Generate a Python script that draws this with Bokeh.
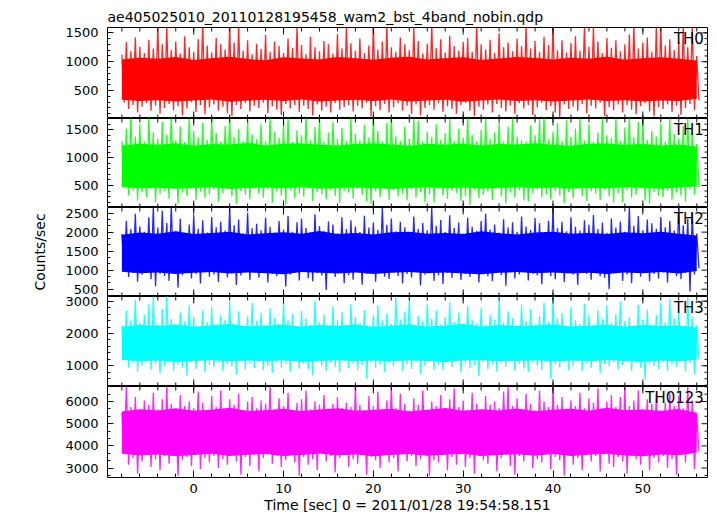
from bokeh.plotting import figure
from bokeh.models import Range1d, FixedTicker, LinearAxis, Label
from bokeh.layouts import column
from bokeh.embed import file_html
from bokeh.resources import INLINE

TITLE = "ae405025010_20110128195458_wam2_bst_4band_nobin.qdp"
X_LABEL = "Time [sec] 0 = 2011/01/28 19:54:58.151"
Y_LABEL = "Counts/sec"
BANDS = ["TH0", "TH1", "TH2", "TH3", "TH0123"]
COLORS = ["#ff0000", "#00ff00", "#0000ff", "#00ffff", "#ff00ff"]

# time of each sample (s); peak value at TIME, trough value a quarter second later
TIME = [-8.0, -7.5, -7.0, -6.5, -6.0, -5.5, -5.0, -4.5, -4.0, -3.5,
        -3.0, -2.5, -2.0, -1.5, -1.0, -0.5, 0.0, 0.5, 1.0, 1.5,
        2.0, 2.5, 3.0, 3.5, 4.0, 4.5, 5.0, 5.5, 6.0, 6.5,
        7.0, 7.5, 8.0, 8.5, 9.0, 9.5, 10.0, 10.5, 11.0, 11.5,
        12.0, 12.5, 13.0, 13.5, 14.0, 14.5, 15.0, 15.5, 16.0, 16.5,
        17.0, 17.5, 18.0, 18.5, 19.0, 19.5, 20.0, 20.5, 21.0, 21.5,
        22.0, 22.5, 23.0, 23.5, 24.0, 24.5, 25.0, 25.5, 26.0, 26.5,
        27.0, 27.5, 28.0, 28.5, 29.0, 29.5, 30.0, 30.5, 31.0, 31.5,
        32.0, 32.5, 33.0, 33.5, 34.0, 34.5, 35.0, 35.5, 36.0, 36.5,
        37.0, 37.5, 38.0, 38.5, 39.0, 39.5, 40.0, 40.5, 41.0, 41.5,
        42.0, 42.5, 43.0, 43.5, 44.0, 44.5, 45.0, 45.5, 46.0, 46.5,
        47.0, 47.5, 48.0, 48.5, 49.0, 49.5, 50.0, 50.5, 51.0, 51.5,
        52.0, 52.5, 53.0, 53.5, 54.0, 54.5, 55.0, 55.5, 56.0]
CORE_TIME = [-8, -6, -4, -2, 0, 2, 4, 6, 8, 10, 12, 14, 16, 18, 20, 22, 24,
             26, 28, 30, 32, 34, 36, 38, 40, 42, 44, 46, 48, 50, 52, 54, 56]

TH0_HIGH = [1120, 1340, 1180, 1420, 1260, 1150, 1380, 1230, 1640, 1300,
            1610, 1200, 1350, 1140, 1440, 1250, 1170, 1390, 1650, 1280,
            1160, 1410, 1300, 1210, 1660, 1330, 1620, 1190, 1370, 1130,
            1310, 1220, 1460, 1170, 1350, 1270, 1150, 1400, 1240, 1600,
            1290, 1130, 1430, 1250, 1180, 1360, 1300, 1140, 1480, 1230,
            1610, 1320, 1190, 1400, 1150, 1280, 1640, 1210, 1350, 1620,
            1250, 1170, 1420, 1300, 1200, 1600, 1360, 1140, 1310, 1640,
            1240, 1390, 1160, 1450, 1270, 1190, 1340, 1410, 1170, 1650,
            1300, 1210, 1380, 1150, 1490, 1250, 1330, 1180, 1400, 1270,
            1610, 1230, 1360, 1170, 1430, 1290, 1640, 1200, 1370, 1160,
            1320, 1440, 1190, 1620, 1260, 1600, 1350, 1150, 1410, 1240,
            1370, 1180, 1300, 1470, 1630, 1230, 1330, 1420, 1170, 1610,
            1650, 1280, 1390, 1200, 1340, 1640, 1250, 1600, 1100]
TH0_LOW = [290, 180, 250, 120, 220, 280, 150, 240, 100, 200,
           270, 160, 230, 70, 190, 300, 130, 250, 90, 210,
           260, 150, 220, 110, 60, 250, 180, 280, 140, 240,
           200, 290, 110, 230, 170, 80, 270, 190, 250, 130,
           240, 180, 70, 260, 150, 220, 120, 280, 170, 210,
           250, 140, 240, 190, 290, 50, 230, 160, 270, 120,
           210, 280, 150, 240, 90, 260, 70, 200, 250, 170,
           280, 130, 230, 180, 100, 250, 290, 150, 60, 220,
           170, 260, 120, 270, 200, 140, 240, 100, 280, 190,
           250, 80, 210, 290, 160, 230, 120, 40, 260, 180,
           220, 150, 270, 110, 240, 190, 290, 60, 210, 160,
           260, 120, 250, 170, 90, 230, 280, 140, 50, 210,
           180, 260, 130, 240, 80, 200, 270, 160, 330]
TH0_CORE_HIGH = [1040, 1070, 1050, 1080, 1030, 1060, 1085, 1045, 1025, 1075, 1055,
                 1040, 1080, 1060, 1035, 1070, 1085, 1040, 1060, 1075, 1030, 1055,
                 1080, 1065, 1040, 1070, 1050, 1085, 1035, 1060, 1075, 1050, 1020]
TH0_CORE_LOW = [340, 320, 335, 310, 330, 345, 305, 330, 340, 320, 345,
                310, 330, 340, 320, 345, 310, 330, 340, 305, 330, 345,
                320, 335, 310, 330, 345, 320, 335, 310, 330, 320, 360]

TH1_HIGH = [1300, 1520, 1780, 1380, 1600, 1290, 1720, 1450, 1340, 1650,
            1410, 1760, 1310, 1560, 1280, 1740, 1480, 1360, 1620, 1320,
            1710, 1440, 1290, 1570, 1760, 1370, 1510, 1300, 1670, 1420,
            1330, 1600, 1290, 1750, 1460, 1350, 1630, 1730, 1280, 1490,
            1400, 1780, 1320, 1550, 1720, 1290, 1450, 1640, 1340, 1530,
            1300, 1740, 1430, 1310, 1590, 1360, 1710, 1480, 1290, 1620,
            1760, 1380, 1300, 1560, 1340, 1730, 1660, 1290, 1470, 1370,
            1600, 1320, 1440, 1700, 1300, 1520, 1360, 1770, 1410, 1290,
            1500, 1720, 1340, 1450, 1630, 1290, 1560, 1750, 1380, 1310,
            1290, 1580, 1400, 1690, 1760, 1330, 1470, 1620, 1300, 1670,
            1370, 1520, 1730, 1310, 1600, 1290, 1450, 1780, 1400, 1350,
            1720, 1300, 1540, 1740, 1360, 1640, 1760, 1320, 1480, 1380,
            1610, 1290, 1710, 1420, 1340, 1570, 1740, 1460, 1250]
TH1_LOW = [470, 320, 410, 230, 380, 290, 440, 200, 350, 400,
           260, 430, 180, 370, 310, 450, 240, 390, 280, 340,
           420, 210, 360, 460, 300, 170, 400, 330, 250, 440,
           350, 280, 430, 190, 390, 320, 160, 410, 270, 360,
           300, 450, 220, 380, 340, 250, 420, 310, 190, 400,
           370, 260, 440, 330, 210, 170, 390, 290, 460, 240,
           410, 300, 350, 230, 430, 280, 380, 200, 340, 190,
           440, 320, 260, 400, 360, 220, 310, 150, 420, 270,
           330, 390, 240, 450, 300, 180, 370, 280, 410, 230,
           210, 360, 430, 290, 340, 250, 400, 320, 180, 380,
           270, 440, 310, 220, 390, 350, 240, 420, 300, 190,
           360, 200, 410, 280, 330, 450, 230, 170, 380, 310,
           290, 400, 250, 370, 320, 210, 430, 340, 470]
TH1_CORE_HIGH = [1220, 1250, 1230, 1260, 1215, 1245, 1235, 1265, 1220, 1250, 1255,
                 1230, 1220, 1245, 1260, 1235, 1215, 1250, 1230, 1255, 1220, 1245,
                 1235, 1260, 1230, 1215, 1250, 1255, 1230, 1245, 1220, 1235, 1200]
TH1_CORE_LOW = [470, 450, 460, 440, 455, 470, 435, 455, 465, 450, 470,
                440, 455, 465, 450, 435, 455, 470, 450, 465, 440, 455,
                470, 450, 465, 440, 455, 450, 470, 455, 440, 465, 480]

TH2_HIGH = [1950, 2300, 2080, 2480, 2150, 2010, 2390, 2660, 2120, 2560,
            2240, 2680, 2020, 2350, 1970, 2200, 2450, 2090, 2310, 1990,
            2400, 2130, 2270, 2040, 2660, 2180, 2330, 1960, 2500, 2100,
            2220, 2050, 2380, 2140, 1980, 2290, 2070, 2420, 2010, 2260,
            2350, 2110, 1990, 2470, 2160, 2030, 2280, 2200, 1970, 2390,
            2080, 2310, 2150, 2000, 2430, 2120, 2250, 2060, 2660, 2190,
            2360, 2020, 2270, 2130, 1980, 2410, 2090, 2240, 2050, 2660,
            2170, 2320, 2000, 2440, 2110, 2250, 1960, 2380, 2140, 2030,
            2290, 2480, 2070, 2200, 1990, 2340, 2120, 2260, 2010, 2410,
            2150, 2060, 2370, 2230, 1970, 2300, 2660, 2100, 2270, 2020,
            2390, 2140, 2040, 2310, 2190, 2450, 2080, 2250, 1980, 2360,
            2120, 2280, 2010, 2660, 2170, 2420, 2050, 2330, 2230, 2090,
            2400, 2130, 2290, 2040, 2670, 2180, 2350, 2510, 1960]
TH2_LOW = [1040, 820, 930, 700, 880, 990, 760, 580, 910, 850,
           720, 960, 540, 870, 1000, 780, 900, 650, 950, 830,
           890, 690, 990, 810, 920, 610, 860, 1010, 740, 940,
           800, 970, 680, 900, 840, 1020, 570, 880, 950, 730,
           980, 790, 710, 920, 860, 480, 940, 820, 1000, 660,
           870, 750, 960, 620, 910, 990, 700, 950, 830, 770,
           940, 850, 650, 900, 810, 990, 600, 880, 960, 720,
           870, 640, 930, 800, 1010, 740, 900, 820, 970, 680,
           920, 840, 710, 990, 870, 590, 950, 780, 890, 1000,
           730, 910, 860, 630, 970, 850, 760, 1010, 690, 930,
           880, 620, 960, 900, 750, 990, 840, 800, 500, 920,
           970, 720, 890, 660, 950, 830, 1020, 710, 900, 780,
           940, 680, 980, 840, 760, 930, 440, 890, 1050]
TH2_CORE_HIGH = [1930, 1990, 1960, 2020, 1950, 1980, 2010, 1940, 1970, 2000, 1960,
                 2030, 1950, 1980, 1940, 2000, 2010, 1960, 1980, 1950, 2020, 1970,
                 1940, 1990, 2010, 1960, 1980, 1950, 2000, 1970, 2010, 1960, 1910]
TH2_CORE_LOW = [960, 920, 940, 900, 930, 955, 910, 940, 920, 895, 950,
                930, 910, 940, 900, 930, 955, 920, 940, 910, 895, 930,
                950, 920, 940, 910, 930, 900, 940, 920, 950, 910, 980]

TH3_HIGH = [2250, 2700, 2400, 3050, 2330, 2580, 2900, 3150, 2290, 2760,
            3160, 2450, 2230, 2650, 2380, 2880, 2520, 2210, 2710, 2360,
            2820, 2270, 2560, 2430, 3000, 2310, 2690, 2220, 2530, 2940,
            2390, 2640, 2200, 2780, 2480, 2300, 2950, 2410, 2600, 2240,
            2700, 2460, 2280, 3020, 2350, 2590, 2210, 2840, 2420, 2660,
            2260, 2910, 2500, 2330, 2730, 2190, 2570, 2870, 2400, 2620,
            2300, 3150, 2440, 2680, 3100, 2250, 2550, 2380, 2920, 2470,
            2720, 2280, 2510, 2960, 2350, 2640, 2200, 2860, 2430, 2310,
            2800, 2270, 2580, 2420, 3050, 2330, 2690, 2490, 2220, 2900,
            2390, 2750, 2260, 2540, 2950, 2360, 3100, 2470, 2630, 2230,
            2830, 2410, 2290, 2920, 2560, 2200, 2720, 2440, 2870, 2320,
            2610, 2980, 2380, 2500, 2240, 2890, 2430, 2740, 2280, 2570,
            2940, 2350, 3080, 2460, 2660, 2230, 3120, 2520, 2250]
TH3_LOW = [1180, 940, 1080, 820, 1010, 1130, 870, 1050, 760, 990,
           1120, 850, 1040, 950, 690, 1100, 900, 1160, 800, 1020,
           960, 1110, 830, 1060, 980, 720, 1140, 890, 1070, 930,
           1130, 860, 1000, 780, 1090, 950, 1050, 820, 1150, 910,
           1040, 880, 700, 1120, 990, 840, 1080, 960, 790, 1140,
           920, 1060, 870, 1010, 600, 1100, 940, 1030, 810, 1090,
           980, 1150, 830, 1050, 900, 1120, 740, 1000, 1130, 880,
           1040, 860, 1100, 960, 1160, 790, 1070, 930, 1020, 680,
           1110, 890, 1050, 820, 1080, 970, 1150, 850, 1060, 920,
           810, 1090, 1010, 870, 1130, 600, 1040, 950, 1120, 860,
           1000, 1140, 840, 1070, 930, 1110, 770, 1050, 990, 1100,
           880, 1020, 1130, 830, 1090, 940, 560, 1060, 1000, 900,
           1100, 850, 1040, 960, 1150, 820, 1080, 740, 1200]
TH3_CORE_HIGH = [2200, 2260, 2230, 2280, 2210, 2250, 2290, 2220, 2240, 2270, 2210,
                 2260, 2230, 2280, 2200, 2250, 2270, 2220, 2240, 2290, 2210, 2260,
                 2230, 2250, 2280, 2220, 2240, 2270, 2210, 2260, 2230, 2250, 2180]
TH3_CORE_LOW = [1180, 1140, 1160, 1120, 1150, 1180, 1130, 1160, 1140, 1170, 1120,
                1150, 1180, 1140, 1160, 1130, 1170, 1150, 1120, 1160, 1180, 1140,
                1150, 1170, 1130, 1160, 1140, 1180, 1150, 1120, 1160, 1140, 1190]

TH0123_HIGH = [5500, 6700, 5750, 6200, 5600, 6050, 5850, 6400, 5650, 6100,
               6700, 5900, 5550, 6300, 5800, 6000, 5700, 6450, 5950, 5600,
               6250, 5750, 6500, 5650, 6100, 5850, 6350, 5550, 6000, 6200,
               5700, 6050, 5900, 6700, 5600, 6150, 5800, 6400, 5550, 5950,
               6100, 6500, 5650, 6000, 5850, 6300, 5550, 5900, 6200, 5700,
               5950, 5750, 6700, 5850, 5600, 6250, 5800, 6450, 5650, 6050,
               6700, 5700, 6350, 5900, 5600, 6150, 5850, 6500, 5550, 6000,
               5800, 6300, 5650, 6100, 6600, 5750, 6050, 5600, 6400, 5900,
               5550, 6250, 5850, 6000, 5700, 6450, 6700, 5800, 6150, 5650,
               6350, 5900, 5600, 6500, 6000, 5750, 6700, 5850, 6200, 5600,
               6050, 5800, 6400, 5700, 6150, 5950, 6600, 5550, 6000, 6300,
               5750, 6200, 6700, 5800, 6050, 6500, 5650, 6100, 5900, 6350,
               5600, 5950, 6400, 5800, 6250, 5700, 6700, 6050, 5450]
TH0123_LOW = [3700, 3150, 3450, 2750, 3300, 3600, 3050, 3400, 2900, 3550,
              3200, 3650, 2650, 3350, 3500, 3100, 3600, 2950, 3450, 3250,
              3550, 3000, 3400, 3150, 3650, 3300, 2700, 3500, 3100, 3600,
              2850, 3450, 3650, 3200, 3550, 3050, 3350, 3600, 3250, 2650,
              3500, 3150, 3400, 2900, 3650, 3300, 3550, 2800, 3450, 3600,
              3050, 3400, 3200, 3650, 2700, 3500, 3350, 3000, 3600, 3250,
              3450, 2850, 3650, 3300, 3550, 3100, 3400, 3600, 2650, 3350,
              3250, 3600, 2900, 3500, 3150, 3650, 3050, 3450, 2750, 3550,
              3350, 3200, 3600, 2850, 3450, 3650, 3100, 2700, 3550, 3300,
              3600, 3000, 3400, 3250, 3650, 2950, 3500, 3350, 2650, 3600,
              3150, 3450, 2900, 3600, 3300, 3550, 2850, 3650, 3200, 3050,
              3500, 3300, 2750, 3600, 3400, 3150, 3650, 2900, 3450, 3250,
              3550, 3000, 3400, 2700, 3600, 3250, 3650, 2950, 3750]
TH0123_CORE_HIGH = [5550, 5650, 5600, 5700, 5580, 5630, 5720, 5570, 5610, 5680, 5560,
                    5640, 5700, 5590, 5620, 5670, 5550, 5630, 5710, 5580, 5650, 5600,
                    5690, 5560, 5630, 5670, 5590, 5720, 5610, 5640, 5570, 5660, 5500]
TH0123_CORE_LOW = [3650, 3570, 3610, 3530, 3590, 3650, 3550, 3600, 3630, 3540, 3590,
                   3660, 3570, 3610, 3530, 3590, 3640, 3560, 3600, 3650, 3540, 3590,
                   3620, 3560, 3630, 3550, 3600, 3650, 3570, 3530, 3610, 3580, 3700]

HIGHS = [TH0_HIGH, TH1_HIGH, TH2_HIGH, TH3_HIGH, TH0123_HIGH]
LOWS = [TH0_LOW, TH1_LOW, TH2_LOW, TH3_LOW, TH0123_LOW]
CORE_HIGHS = [TH0_CORE_HIGH, TH1_CORE_HIGH, TH2_CORE_HIGH, TH3_CORE_HIGH, TH0123_CORE_HIGH]
CORE_LOWS = [TH0_CORE_LOW, TH1_CORE_LOW, TH2_CORE_LOW, TH3_CORE_LOW, TH0123_CORE_LOW]

# axes
X_RANGE = (-9.6, 57.2)
X_MAJOR = [0, 10, 20, 30, 40, 50]
X_MINOR = list(range(-8, 57, 2))
Y_RANGES = [(17, 1592), (104, 1703), (309, 2647), (359, 3145), (2575, 6679)]
Y_MAJOR = [[500, 1000, 1500], [500, 1000, 1500], [500, 1000, 1500, 2000, 2500],
           [1000, 2000, 3000], [3000, 4000, 5000, 6000]]
Y_MINOR = [list(range(100, 1600, 100)),
           list(range(200, 1800, 100)),
           [m + k * 500 / 3 for m in range(0, 3000, 500) for k in (1, 2)],
           list(range(400, 3200, 200)),
           [m + k * 1000 / 3 for m in range(2000, 7000, 1000) for k in (1, 2)]]

# layout (page has no margin: layout fills the 717 x 516 window)
FIG_W = 717
BORDER_L, BORDER_R = 107, 10
FRAME_W = FIG_W - BORDER_L - BORDER_R
TOP_BORDER, BOTTOM_BORDER = 27, 38
FRAME_H = [91, 89, 89, 90, 91]
FONT = "DejaVu Sans"
TICK_COLOR = "#111111"
HALF = 0.25

xr = Range1d(*X_RANGE)


def add_edge_ticks(p, i, with_bottom):
    """Inward tick marks on the top, right (and bottom) frame edges."""
    ylo, yhi = Y_RANGES[i]
    ypp = (yhi - ylo) / FRAME_H[i]
    xpp = (X_RANGE[1] - X_RANGE[0]) / FRAME_W
    x0, y0, x1, y1 = [], [], [], []
    for ticks, n in ((X_MAJOR, 7), (X_MINOR, 4)):
        for t in ticks:
            x0.append(t); x1.append(t); y0.append(yhi); y1.append(yhi - n * ypp)
            if with_bottom:
                x0.append(t); x1.append(t); y0.append(ylo); y1.append(ylo + n * ypp)
    for ticks, n in ((Y_MAJOR[i], 6), (Y_MINOR[i], 3)):
        for v in ticks:
            x0.append(X_RANGE[1]); x1.append(X_RANGE[1] - n * xpp); y0.append(v); y1.append(v)
    p.segment(x0, y0, x1, y1, line_color=TICK_COLOR, line_width=1)


panels = []
for i in range(5):
    top = i == 0
    bottom = i == 4
    h = FRAME_H[i] + (TOP_BORDER if top else 0) + (BOTTOM_BORDER if bottom else 0)
    p = figure(width=FIG_W, height=h, x_range=xr, y_range=Range1d(*Y_RANGES[i]),
               output_backend="svg", toolbar_location=None,
               x_axis_location=None, y_axis_location=None,
               title=TITLE if top else None,
               min_border_left=BORDER_L, min_border_right=BORDER_R,
               min_border_top=(TOP_BORDER if top else 0),
               min_border_bottom=(BOTTOM_BORDER if bottom else 0))
    p.grid.visible = False
    p.outline_line_color = "black"
    p.outline_line_width = 1
    if top:
        p.title.text_font = FONT
        p.title.text_font_size = "14px"
        p.title.text_font_style = "normal"
        p.title.text_color = "black"
        p.title.standoff = 5
        p.title.offset = 0

    # light curve: peaks and troughs joined in time order, dense core filled
    xs, ys = [], []
    for t, hv, lv in zip(TIME, HIGHS[i], LOWS[i]):
        xs += [t, t + HALF]
        ys += [hv, lv]
    p.line(xs, ys, line_color=COLORS[i], line_width=1.3, line_alpha=0.85)
    p.varea(x=CORE_TIME, y1=CORE_LOWS[i], y2=CORE_HIGHS[i], fill_color=COLORS[i])

    left = LinearAxis(ticker=FixedTicker(ticks=Y_MAJOR[i], minor_ticks=Y_MINOR[i]),
                      major_tick_in=6, major_tick_out=0, minor_tick_in=3, minor_tick_out=0,
                      major_tick_line_color=TICK_COLOR, minor_tick_line_color=TICK_COLOR,
                      axis_line_color=None, major_label_standoff=9,
                      major_label_text_font=FONT, major_label_text_font_size="13px",
                      major_label_text_color="black")
    if i == 2:
        left.axis_label = Y_LABEL
        left.axis_label_text_font = FONT
        left.axis_label_text_font_size = "14px"
        left.axis_label_text_font_style = "normal"
        left.axis_label_text_color = "black"
        left.axis_label_standoff = 14
    p.add_layout(left, "left")

    if bottom:
        below = LinearAxis(ticker=FixedTicker(ticks=X_MAJOR, minor_ticks=X_MINOR),
                           major_tick_in=7, major_tick_out=0, minor_tick_in=4, minor_tick_out=0,
                           major_tick_line_color=TICK_COLOR, minor_tick_line_color=TICK_COLOR,
                           axis_line_color=None, major_label_standoff=6,
                           major_label_text_font=FONT, major_label_text_font_size="13px",
                           major_label_text_color="black",
                           axis_label=X_LABEL, axis_label_standoff=1,
                           axis_label_text_font=FONT, axis_label_text_font_size="14px",
                           axis_label_text_font_style="normal", axis_label_text_color="black")
        p.add_layout(below, "below")
    add_edge_ticks(p, i, with_bottom=not bottom)

    ylo, yhi = Y_RANGES[i]
    p.add_layout(Label(x=X_RANGE[1] - 0.4, y=yhi - 0.025 * (yhi - ylo), text=BANDS[i],
                       text_align="right", text_baseline="top",
                       text_font=FONT, text_font_size="15px", text_color="black"))
    panels.append(p)

layout = column(*panels, spacing=0)
open("out.html", "w").write(file_html(layout, INLINE))
